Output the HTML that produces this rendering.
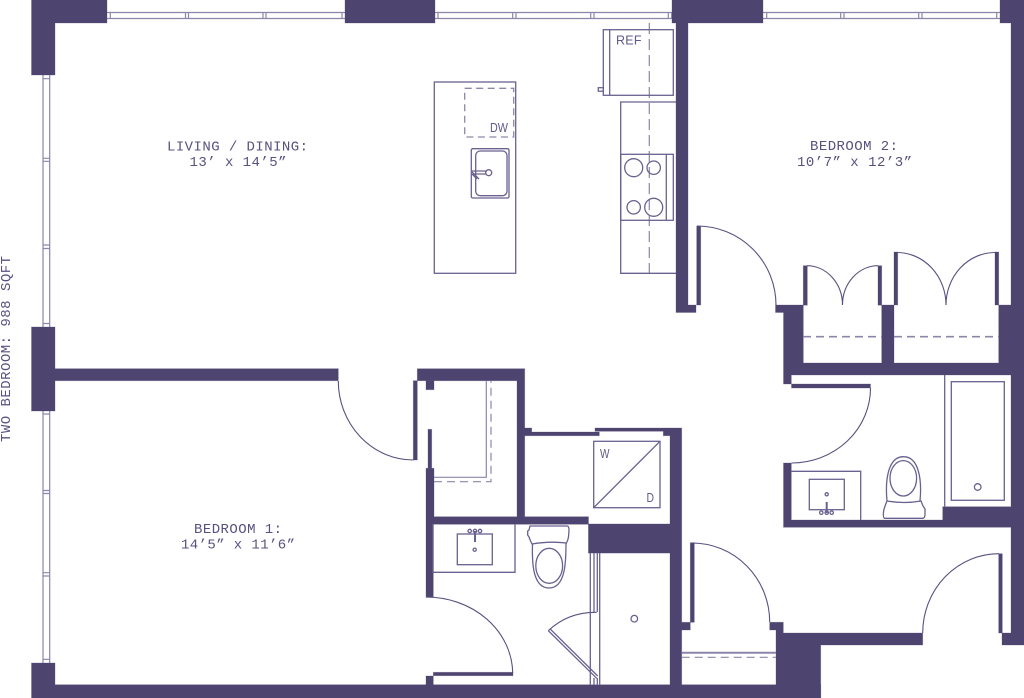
<!DOCTYPE html>
<html><head><meta charset="utf-8"><style>
html,body{margin:0;padding:0;background:#fff}
svg{display:block}
text{font-family:"Liberation Mono",monospace;fill:#5a5080;font-size:14px}
text.s{font-family:"Liberation Sans",sans-serif;font-size:13px;fill:#625889}
.w{fill:#4e4470;stroke:#4e4470;stroke-opacity:.35;stroke-width:.8}
.l{fill:none;stroke:#6a6190;stroke-width:1.3}
.t{fill:none;stroke:#5a5080;stroke-width:1.1}
.d{fill:none;stroke:#8d86a9;stroke-width:1.6;stroke-dasharray:8 5}
.p{fill:none;stroke:#8d86a9;stroke-width:1.2}
</style></head><body>
<svg width="1024" height="698" viewBox="0 0 1024 698" xmlns="http://www.w3.org/2000/svg">
<!-- windows -->
<g class="p">
<path d="M107,12.5H345M107,18.5H345M435,12.5H672M435,18.5H672M763,12.5H1000M763,18.5H1000"/>
<path d="M110.3,12V19M185.5,12V19M188.5,12V19M263,12V19M266,12V19M342,12V19M438,12V19M512.7,12V19M516,12V19M590.7,12V19M594,12V19M668.3,12V19M671.7,12V19M766.7,12V19M840.7,12V19M844,12V19M918.7,12V19M922,12V19M996.7,12V19"/>
<path d="M43,75V327M49.7,75V327M43,411V663M49.7,411V663"/>
<path d="M43,78.7H50M43,158.3H50M43,161.3H50M43,245H50M43,248.5H50M43,323.5H50M43,414H50M43,490.5H50M43,493.5H50M43,572.7H50M43,576H50M43,659.3H50"/>
</g>
<!-- walls -->
<g class="w">
<path d="M31.5,0H107V23H55V75H31.5Z"/>
<rect x="345" y="0" width="90" height="23"/>
<path d="M672,0H763V23H688V305H696V312.5H676V23H672Z"/>
<path d="M1000,0H1024V375H1011V23H1000Z" />
<rect x="31.5" y="327" width="23.5" height="84"/>
<rect x="55" y="368.7" width="283.3" height="12"/>
<path d="M31.5,663H55V684.7H820.7V698H31.5Z"/>
<!-- closets upper right -->
<path d="M775.5,305H803.3V363H881.7V305H894V363H998.7V305H1024V375H791.3V384H783.5V312.5H775.5Z"/>
<rect x="696.7" y="226" width="4" height="79"/>
<rect x="803.3" y="265.7" width="4" height="39.5"/>
<rect x="878" y="265.7" width="3.7" height="39.5"/>
<rect x="894" y="252" width="3.7" height="53"/>
<rect x="995" y="252" width="3.7" height="53"/>
<!-- bath 2 -->
<rect x="791.5" y="384" width="79" height="4"/>
<path d="M783.5,463H791.3V520H942.7V506.7H1011V375H1024V633H1011V527.3H783.5Z"/>
<!-- lower right -->
<path d="M1002,633H1024V645H1002Z"/>
<rect x="998.7" y="553.7" width="3.6" height="79.3"/>
<path d="M769.7,622.3H783.3V633H922.7V645H820.7V698H776V630H769.7Z"/>
<rect x="690.3" y="542.7" width="4" height="79.6"/>
<!-- center -->
<path d="M417.3,368.7H524.7V428H531.7V432H599.3V435.7H524.7V516.7H588.5V553H670V435.7H663.3V431.3H595V428H681.7V698H670V553H670V524.3H433.3V597.3H426V468.3H434V516.7H517V380.7H417.3Z"/>
<path d="M670,524H588.5V553H670Z"/>
<rect x="413.3" y="380.7" width="4" height="79.3"/>
<rect x="426" y="380.7" width="8" height="9"/>
<rect x="428" y="429.3" width="3.7" height="39"/>
<rect x="433.3" y="672.3" width="79.7" height="3.4"/>
<rect x="426" y="676" width="7.3" height="9"/>
<rect x="681" y="622.3" width="9.3" height="7.7"/>
</g>
<!-- door arcs -->
<g class="t">
<path d="M697,226A79,79 0 0 1 776,305"/>
<path d="M807,265.7A35.5,39.3 0 0 1 842.5,305"/>
<path d="M878,265.7A35.5,39.3 0 0 0 842.5,305"/>
<path d="M897,252.5A49,52.5 0 0 1 946,305"/>
<path d="M995,252.5A49,52.5 0 0 0 946,305"/>
<path d="M870.5,388A79,75 0 0 1 791.5,463"/>
<path d="M999,553.7A76.3,79.3 0 0 0 922.7,633"/>
<path d="M692,543A77.7,79 0 0 1 769.7,622"/>
<path d="M338.3,381A75.2,79 0 0 0 413.5,460"/>
<path d="M426,597A86.7,77 0 0 1 512.7,673"/>
<path d="M596.7,612.3Q568,612 548.3,630.7"/>
</g>
<!-- dashed -->
<path class="d" d="M803,336.7H882M894,336.7H999"/>
<path class="d" style="stroke-width:1.2" d="M681.7,657.3H776"/>
<path class="p" style="stroke-width:2" d="M681.7,652.7H776"/>
<path class="d" style="stroke-width:1.2;stroke-dasharray:8 5" d="M434,481.7H491V381"/>
<path class="p" d="M434,477.3H486.3V381"/>
<path class="d" style="stroke-width:1.2;stroke-dasharray:11 5" d="M649.3,23V273"/>
<!-- kitchen -->
<g class="l">
<rect x="603.3" y="29.7" width="70" height="65.6"/>
<path d="M609.7,29.7V95.3"/>
<rect x="598.3" y="87.7" width="5" height="3.5"/>
<path d="M676,102H620.7V273.3H676"/>
<rect x="620.7" y="154.3" width="52.6" height="66" />
<path d="M666.3,154.3V220.3"/>
<circle cx="633.7" cy="167.7" r="9"/>
<circle cx="653.7" cy="167.7" r="6.7"/>
<circle cx="633.7" cy="207.3" r="6.7"/>
<circle cx="653.7" cy="207.3" r="9"/>
<rect x="434.3" y="82" width="81.4" height="191.3"/>
<rect x="471.3" y="148.7" width="37.7" height="49.3" rx="1.5"/>
<rect x="475.7" y="151" width="31.3" height="44.7" rx="4.5"/>
<circle cx="488.7" cy="172.7" r="3"/>
<path d="M472,171H487M473,174H486M472,172L479,179M472,174L477,179"/>
</g>
<path class="d" style="stroke-width:1.3;stroke-dasharray:7 4.5" d="M464.7,88.3H513.7V137H464.7Z"/>
<!-- washer -->
<g class="l">
<rect x="593.7" y="441.3" width="66.3" height="66.4"/>
<path d="M593.7,507.7L660,441.3"/>
</g>
<!-- bath 1 -->
<g class="l">
<path d="M433,524V572.3H515V524"/>
<rect x="457.3" y="534" width="35" height="30.7"/>
<circle cx="474.7" cy="549.7" r="1.6"/>
<circle cx="469.7" cy="531" r="1.7"/>
<circle cx="475" cy="531" r="1.7"/>
<circle cx="480" cy="531" r="1.7"/>
<path d="M475,531V542" style="stroke-width:2"/>
<path d="M530,526H567Q569,526 569,530L568.5,537Q568,540 566.5,543Q549,541 532,544Q530,540 529,537L527.7,535V531L529,530Z"/>
<path d="M532.5,544C532,560 532,588 549,588C566,588 566,560 566,543"/>
<ellipse cx="549.2" cy="565.8" rx="13.4" ry="17.5"/>
<path d="M590.3,553V684.7M599.7,553V684.7M594,553V612M597.3,553V612M594,678V684.7M597.3,678V684.7"/>
<path d="M548.3,630.7L596.7,678.3M550,628.8L597.7,676"/>
<circle cx="634.3" cy="618.7" r="3.3"/>
</g>
<!-- bath 2 fixtures -->
<g class="l">
<path d="M791.3,471.3H860.7V520"/>
<rect x="809.3" y="479.3" width="35" height="30.4"/>
<circle cx="826.7" cy="494.3" r="1.6"/>
<circle cx="821.3" cy="512.7" r="1.7"/>
<circle cx="826.7" cy="512.7" r="1.7"/>
<circle cx="831.7" cy="512.7" r="1.7"/>
<path d="M826.7,502V513" style="stroke-width:2"/>
<path d="M884.5,518.3H923Q925,518 925,514V509L923,506L921,501Q904,504 887,501Q884,508 883.5,512Q883,518 884.5,518.3Z"/>
<path d="M887,501C885,480 888,456.7 903.5,456.7C919,456.7 922,480 920,501"/>
<ellipse cx="903.3" cy="478.3" rx="13.3" ry="17.7"/>
<path d="M944.7,375V506.7"/>
<rect x="951.3" y="381.7" width="53" height="118.6"/>
<circle cx="977.7" cy="487" r="3.3"/>
</g>
<!-- labels -->
<text class="s" x="616" y="44.5" textLength="25.5" style="font-size:12.5px">REF</text>
<text class="s" x="490" y="132" textLength="18" lengthAdjust="spacingAndGlyphs">DW</text>
<text class="s" x="600" y="458" textLength="9.5" lengthAdjust="spacingAndGlyphs">W</text>
<text class="s" x="646.5" y="502" textLength="7.5" lengthAdjust="spacingAndGlyphs">D</text>
<text x="167" y="150.5" textLength="141">LIVING / DINING:</text>
<text x="189.5" y="165.8" textLength="97">13’ x 14’5”</text>
<text x="810" y="150" textLength="88">BEDROOM 2:</text>
<text x="797" y="166" textLength="115">10’7” x 12’3”</text>
<text x="194" y="533" textLength="88">BEDROOM 1:</text>
<text x="181" y="548.5" textLength="114">14’5” x 11’6”</text>
<text transform="translate(10,442) rotate(-90)" x="0" y="0" textLength="186">TWO BEDROOM: 988 SQFT</text>
</svg>
</body></html>
